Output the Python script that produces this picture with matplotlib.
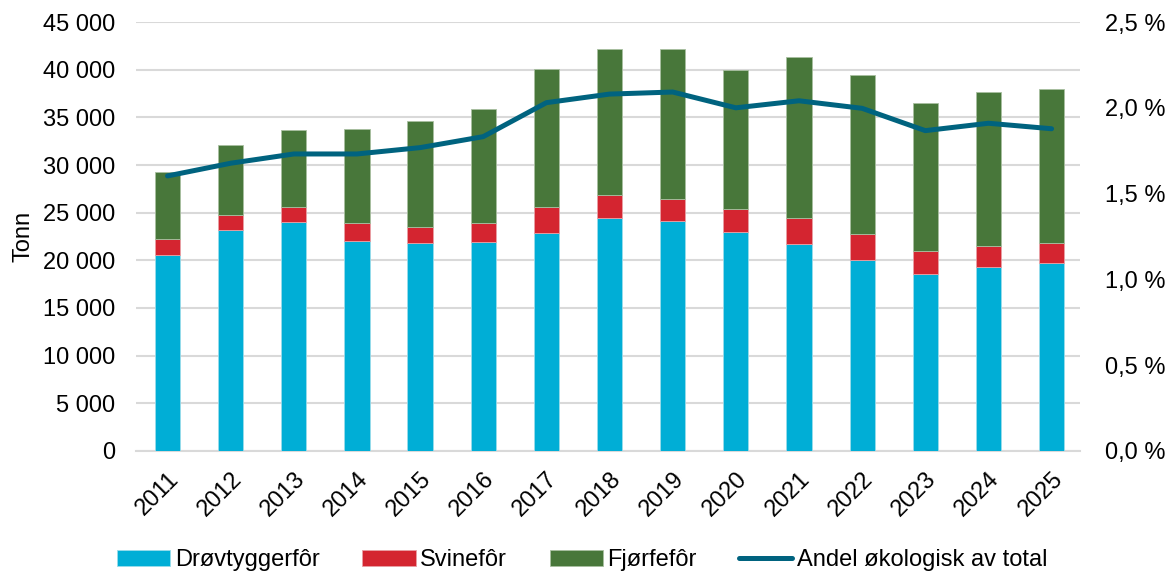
import matplotlib.pyplot as plt
import matplotlib.ticker as mticker
import numpy as np

plt.rcParams['font.family'] = ['Liberation Sans', 'DejaVu Sans']

years = ['2011', '2012', '2013', '2014', '2015', '2016', '2017', '2018',
         '2019', '2020', '2021', '2022', '2023', '2024', '2025']
# stacked values in tonnes
drovtygger = [20560, 23210, 24020, 22060, 21820, 21890, 22840, 24410,
              24130, 22970, 21680, 20040, 18570, 19300, 19720]
svin = [1640, 1580, 1540, 1820, 1710, 1990, 2720, 2410,
        2340, 2380, 2730, 2690, 2410, 2240, 2100]
fjorfe = [7040, 7340, 8140, 9920, 11070, 11990, 14510, 15320,
          15700, 14650, 16890, 16680, 15490, 16120, 16180]
# share of organic in total, percent
andel = [1.603, 1.677, 1.731, 1.731, 1.768, 1.832, 2.03, 2.08,
         2.092, 2.0, 2.041, 1.997, 1.867, 1.91, 1.878]

c_blue = '#00AED6'
c_red = '#D42530'
c_green = '#48773A'
c_line = '#00637F'
fs = 17

fig = plt.figure(figsize=(11.72, 5.75), dpi=100)
ax = fig.add_axes([0.116, 0.2157, 0.8055, 0.746])
ax2 = ax.twinx()

x = np.arange(len(years))
w = 0.40
drov = np.array(drovtygger)
sv = np.array(svin)
fj = np.array(fjorfe)
b1 = ax.bar(x, drov, w, color=c_blue, edgecolor='#9ADCEB', linewidth=0.6, zorder=3, label='Drøvtyggerfôr')
b2 = ax.bar(x, sv, w, bottom=drov, color=c_red, edgecolor='#E8A0A5', linewidth=0.6, zorder=3, label='Svinefôr')
b3 = ax.bar(x, fj, w, bottom=drov + sv, color=c_green, edgecolor='#A8BFA0', linewidth=0.6, zorder=3, label='Fjørfefôr')

l1, = ax2.plot(x, andel, color=c_line, linewidth=3.6, solid_capstyle='round', zorder=4,
               label='Andel økologisk av total')

ax.set_xlim(-0.5, 14.45)
ax.set_ylim(0, 45000)
ax.set_yticks(np.arange(0, 45001, 5000))
ax.yaxis.set_major_formatter(mticker.FuncFormatter(lambda v, p: f'{int(v):,}'.replace(',', ' ')))
ax2.set_ylim(0, 2.5)
ax2.set_yticks(np.arange(0, 2.51, 0.5))
ax2.yaxis.set_major_formatter(mticker.FuncFormatter(lambda v, p: f'{v:.1f} %'.replace('.', ',')))

ax.grid(axis='y', color='#D9D9D9', linewidth=1.5, zorder=0)
ax.set_axisbelow(True)
for a in (ax, ax2):
    for s in a.spines.values():
        s.set_visible(False)
    a.tick_params(length=0, labelsize=fs, colors='black')
ax.tick_params(axis='y', pad=15)
ax2.tick_params(axis='y', pad=18)

ax.set_xticks(x)
ax.set_xticklabels(years, rotation=45, ha='right', rotation_mode='anchor')
ax.tick_params(axis='x', pad=12)
ax.set_ylabel('Tonn', fontsize=fs, labelpad=6)

ax.spines['bottom'].set_visible(True)
ax.spines['bottom'].set_color('#D9D9D9')
ax.spines['bottom'].set_linewidth(1.5)

fig.legend(handles=[b1, b2, b3, l1], loc='center', bbox_to_anchor=(0.497, 0.026),
           ncol=4, frameon=False, fontsize=fs, handlelength=2.25, handletextpad=0.2,
           columnspacing=1.8)

fig.savefig('out.png', dpi=100)
